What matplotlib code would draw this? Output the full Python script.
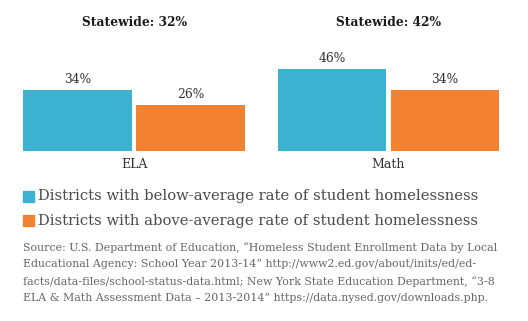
import matplotlib
matplotlib.use("Agg")
import matplotlib.pyplot as plt
from matplotlib.patches import Rectangle

subjects = ["ELA", "Math"]
statewide = [32, 42]
below_avg = [34, 46]
above_avg = [26, 34]
series_names = ["Districts with below-average rate of student homelessness",
                "Districts with above-average rate of student homelessness"]
colors = ["#3DB1D0", "#F28132"]
source = ("Source: U.S. Department of Education, \u201cHomeless Student Enrollment Data by Local\n"
          "Educational Agency: School Year 2013-14\u201d http://www2.ed.gov/about/inits/ed/ed-\n"
          "facts/data-files/school-status-data.html; New York State Education Department, \u201c3-8\n"
          "ELA & Math Assessment Data \u2013 2013-2014\u201d https://data.nysed.gov/downloads.php.")

W, H = 528, 321
fig = plt.figure(figsize=(W/100, H/100), dpi=100)
fig.patch.set_facecolor("white")

font = "DejaVu Serif"
base_px = 151
ax = fig.add_axes([0, (H - base_px)/H, 1, base_px/H])
ax.set_xlim(-134/254.5, (W-134)/254.5)
ax.set_ylim(0, base_px/1.78)
ax.axis("off")

bw = 0.428
off = 0.222
x = list(range(len(subjects)))
b1 = ax.bar([i - off for i in x], below_avg, width=bw, color=colors[0])
b2 = ax.bar([i + off for i in x], above_avg, width=bw, color=colors[1])
for bars, vals in ((b1, below_avg), (b2, above_avg)):
    for r, v in zip(bars, vals):
        ax.annotate(f"{v}%", (r.get_x() + r.get_width()/2, v), xytext=(0, 3),
                    textcoords="offset points", ha="center", va="bottom",
                    fontsize=8.8, family=font, color="#333333")

for i, (s, sw) in enumerate(zip(subjects, statewide)):
    xf = (134 + i*254.5)/W
    fig.text(xf, 1 - 23/H, f"Statewide: {sw}%", ha="center", va="center",
             fontsize=8.8, fontweight="bold", family=font, color="#1a1a1a")
    fig.text(xf, 1 - 165/H, s, ha="center", va="center",
             fontsize=9, family=font, color="#333333")

for k, (name, c) in enumerate(zip(series_names, colors)):
    yc = 1 - (196 + 24.5*k)/H
    fig.patches.append(Rectangle((23/W, yc - 5.5/H), 11/W, 11/H,
                                 transform=fig.transFigure, color=c))
    fig.text(38/W, yc, name, ha="left", va="center", fontsize=10.6,
             family=font, color="#4a4a4a")

fig.text(23/W, 1 - 242/H, source, ha="left", va="top", fontsize=7.9,
         family=font, color="#666666", linespacing=1.8)

fig.savefig("out.png", dpi=100)
